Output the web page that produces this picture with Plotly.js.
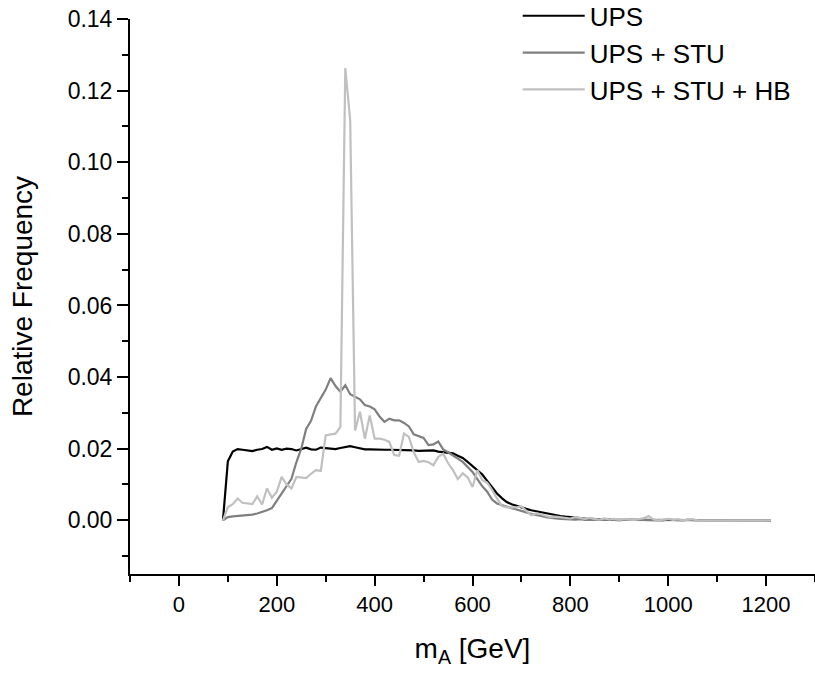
<!DOCTYPE html>
<html>
<head>
<meta charset="utf-8">
<script src="https://cdn.plot.ly/plotly-3.0.1.min.js"></script>
<style>html,body{margin:0;padding:0;background:#fff;}#chart{width:815px;height:675px;}</style>
</head>
<body>
<div id="chart"></div>
<script>
// m_A bin centres [GeV]
const massGeV = [];
for (let m = 90; m <= 1210; m += 10) massGeV.push(m);

const seriesNames = ["UPS", "UPS + STU", "UPS + STU + HB"];

// Relative frequency, UPS
const freqUPS = [
  0.0000, 0.0165, 0.0192, 0.0199, 0.0197, 0.0195, 0.0193, 0.0197, 0.0199, 0.0205,
  0.0197, 0.0201, 0.0197, 0.0200, 0.0199, 0.0195, 0.0200, 0.0203, 0.0198, 0.0197,
  0.0203, 0.0201, 0.0200, 0.0199, 0.0202, 0.0205, 0.0207, 0.0204, 0.0201, 0.0198,
  0.0198, 0.0197, 0.0197, 0.0197, 0.0197, 0.0197, 0.0196, 0.0196, 0.0197, 0.0195,
  0.0194, 0.0194, 0.0193, 0.0195, 0.0192, 0.0190, 0.0188, 0.0187, 0.0180, 0.0174,
  0.0163, 0.0152, 0.0140, 0.0128, 0.0110, 0.0092, 0.0075, 0.0062, 0.0051, 0.0045,
  0.0040, 0.0036, 0.0032, 0.0028, 0.0025, 0.0022, 0.0019, 0.0016, 0.0014, 0.0012,
  0.0010, 0.0008, 0.0007, 0.0006, 0.0005, 0.0004, 0.0003, 0.0003, 0.0002, 0.0002,
  0.0001, 0.0001, 0.0001, 0.0001, 0.0000, 0.0001, 0.0000, 0.0000, 0.0000, 0.0000,
  0.0000, 0.0000, 0.0000, 0.0000, 0.0000, 0.0000, 0.0000, 0.0000, 0.0000, 0.0000,
  0.0000, 0.0000, 0.0000, 0.0000, 0.0000, 0.0000, 0.0000, 0.0000, 0.0000, 0.0000,
  0.0000, 0.0000, 0.0000
];

// Relative frequency, UPS + STU
const freqUPS_STU = [
  0.0000, 0.0009, 0.0011, 0.0012, 0.0013, 0.0014, 0.0016, 0.0019, 0.0023, 0.0028,
  0.0034, 0.0055, 0.0076, 0.0098, 0.0116, 0.0162, 0.0200, 0.0255, 0.0278, 0.0318,
  0.0340, 0.0365, 0.0397, 0.0375, 0.0359, 0.0377, 0.0352, 0.0346, 0.0338, 0.0322,
  0.0318, 0.0310, 0.0290, 0.0275, 0.0284, 0.0279, 0.0279, 0.0272, 0.0262, 0.0240,
  0.0236, 0.0230, 0.0210, 0.0212, 0.0220, 0.0198, 0.0190, 0.0182, 0.0172, 0.0163,
  0.0150, 0.0135, 0.0115, 0.0095, 0.0080, 0.0058, 0.0047, 0.0042, 0.0037, 0.0034,
  0.0030, 0.0027, 0.0022, 0.0018, 0.0014, 0.0012, 0.0009, 0.0006, 0.0005, 0.0004,
  0.0003, 0.0004, 0.0002, 0.0003, 0.0001, 0.0002, 0.0001, 0.0001, 0.0002, 0.0003,
  0.0001, 0.0000, 0.0002, 0.0001, 0.0000, 0.0001, 0.0001, 0.0000, 0.0001, 0.0000,
  0.0000, 0.0003, 0.0001, 0.0000, 0.0000, 0.0002, 0.0000, 0.0000, 0.0000, 0.0000,
  0.0000, 0.0002, 0.0000, 0.0000, 0.0000, 0.0000, 0.0000, 0.0000, 0.0000, 0.0000,
  0.0000, 0.0000, 0.0000
];

// Relative frequency, UPS + STU + HB
const freqUPS_STU_HB = [
  0.0000, 0.0037, 0.0045, 0.0061, 0.0049, 0.0046, 0.0045, 0.0067, 0.0044, 0.0089,
  0.0063, 0.0080, 0.0121, 0.0100, 0.0089, 0.0121, 0.0120, 0.0118, 0.0130, 0.0140,
  0.0138, 0.0237, 0.0240, 0.0242, 0.0261, 0.1263, 0.1118, 0.0251, 0.0303, 0.0228,
  0.0293, 0.0228, 0.0228, 0.0225, 0.0219, 0.0182, 0.0180, 0.0242, 0.0233, 0.0190,
  0.0163, 0.0166, 0.0162, 0.0154, 0.0177, 0.0186, 0.0160, 0.0140, 0.0115, 0.0131,
  0.0120, 0.0093, 0.0140, 0.0112, 0.0105, 0.0085, 0.0061, 0.0040, 0.0036, 0.0035,
  0.0036, 0.0039, 0.0025, 0.0014, 0.0019, 0.0017, 0.0012, 0.0009, 0.0010, 0.0009,
  0.0007, 0.0005, 0.0009, 0.0006, 0.0004, 0.0007, 0.0003, 0.0002, 0.0005, 0.0002,
  0.0004, 0.0001, 0.0004, 0.0002, 0.0001, 0.0003, 0.0006, 0.0012, 0.0002, 0.0000,
  0.0002, 0.0004, 0.0001, 0.0003, 0.0000, 0.0002, 0.0003, 0.0000, 0.0000, 0.0002,
  0.0000, 0.0000, 0.0000, 0.0000, 0.0000, 0.0000, 0.0000, 0.0000, 0.0000, 0.0000,
  0.0000, 0.0000, 0.0000
];

const lineColors = ["#000000", "#7f7f7f", "#c0c0c0"];
const allSeries = [freqUPS, freqUPS_STU, freqUPS_STU_HB];

const FONT = "Liberation Sans, Arial, sans-serif";

const traces = allSeries.map((ys, i) => ({
  type: "scatter",
  mode: "lines",
  x: massGeV,
  y: ys,
  name: seriesNames[i],
  line: { color: lineColors[i], width: 2.2 }
}));

const layout = {
  width: 815,
  height: 675,
  margin: { l: 130, r: 0, t: 19, b: 101, pad: 0, autoexpand: false },
  paper_bgcolor: "#ffffff",
  plot_bgcolor: "#ffffff",
  font: { family: FONT, size: 22, color: "#000" },
  showlegend: true,
  legend: {
    x: 0.566, y: 1.048, xanchor: "left", yanchor: "top",
    bgcolor: "rgba(0,0,0,0)",
    font: { family: FONT, size: 26, color: "#000" },
    itemwidth: 62,
    tracegroupgap: 0
  },
  xaxis: {
    range: [-100, 1300],
    tickmode: "linear", tick0: 0, dtick: 200,
    ticks: "outside", ticklen: 10, tickwidth: 2, tickcolor: "#000",
    minor: { dtick: 100, tick0: 0, ticks: "outside", ticklen: 6, tickwidth: 2, tickcolor: "#000" },
    showline: true, linewidth: 2, linecolor: "#000",
    showgrid: false, zeroline: false,
    tickfont: { family: FONT, size: 22 },
    title: { text: "m<sub>A</sub> [GeV]", font: { family: FONT, size: 28 }, standoff: 22 }
  },
  yaxis: {
    range: [-0.015, 0.14],
    tickmode: "linear", tick0: 0, dtick: 0.02,
    tickformat: ".2f",
    ticks: "outside", ticklen: 11, tickwidth: 2, tickcolor: "#000",
    minor: { dtick: 0.01, tick0: 0, ticks: "outside", ticklen: 6, tickwidth: 2, tickcolor: "#000" },
    showline: true, linewidth: 2, linecolor: "#000",
    showgrid: false, zeroline: false,
    tickfont: { family: FONT, size: 23 },
    title: { text: "Relative Frequency", font: { family: FONT, size: 28 }, standoff: 27 }
  }
};

Plotly.newPlot("chart", traces, layout, { displayModeBar: false, staticPlot: true });
</script>
</body>
</html>
